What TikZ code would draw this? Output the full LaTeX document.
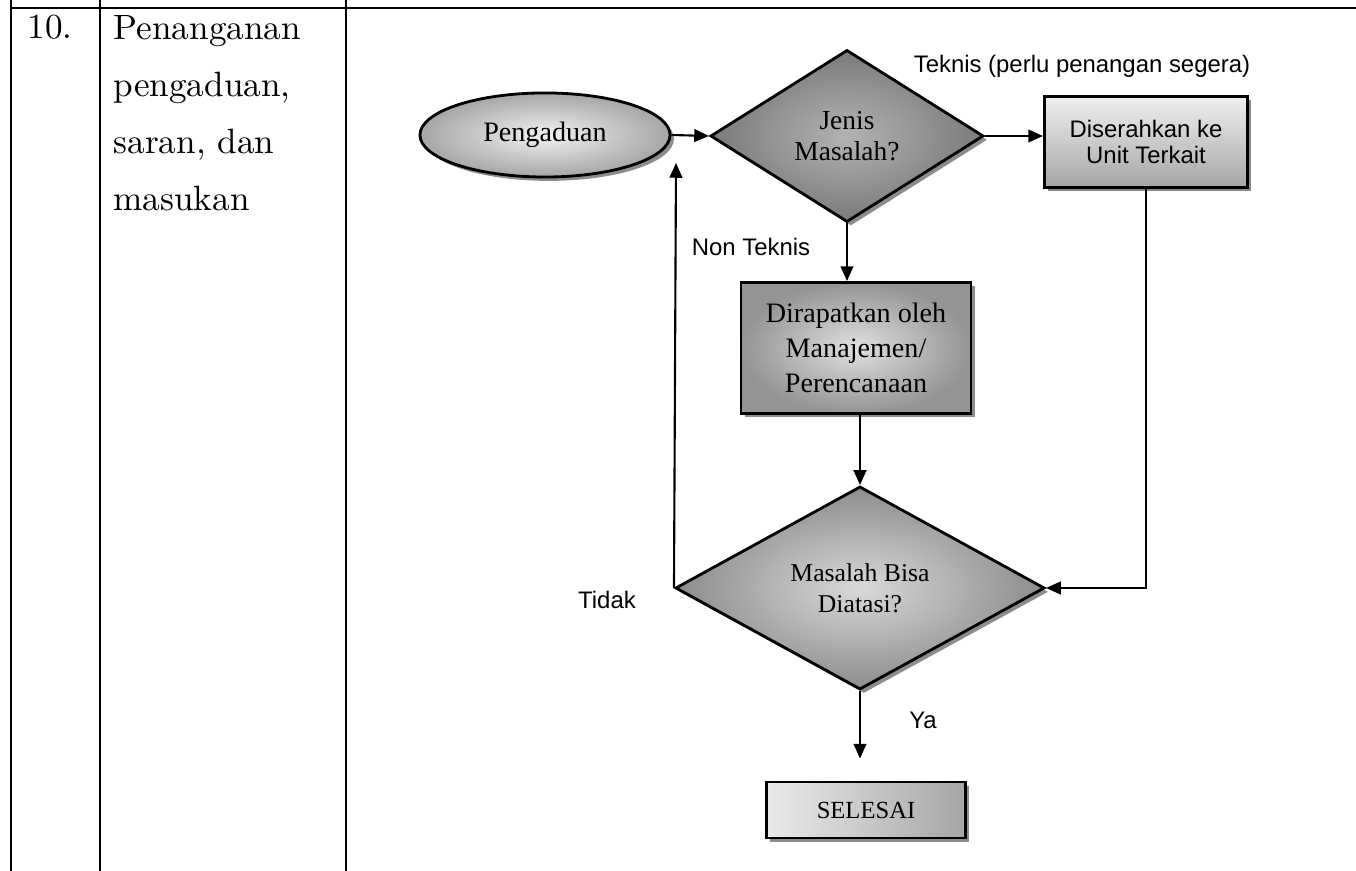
\documentclass[tikz,border=0pt]{standalone}
\usepackage{fontspec}
\newfontfamily\arial{Liberation Sans}
\newfontfamily\cambria{Liberation Serif}
\usetikzlibrary{shapes.geometric,shadows,arrows.meta}

\tikzset{
	bayang/.style={drop shadow={shadow xshift=1.1pt,shadow yshift=-1.1pt,fill=black!75,opacity=0.6}},
	kotak/.style={draw,line width=0.8pt,rectangle,inner sep=1pt,align=center,bayang},
	belah/.style={draw,line width=0.8pt,diamond,inner sep=0pt,align=center,bayang},
	ket/.style={font=\arial\fontsize{6.8}{8}\selectfont,inner sep=0pt},
	panah/.style={line width=0.6pt,-{Triangle[length=4.2pt,width=3.6pt]}},
	garis/.style={line width=0.8pt},
}

\begin{document}
\begin{tikzpicture}[x=0.01cm,y=-0.01cm]

	\useasboundingbox (0,0) rectangle (1356,871);

	% tabel
	\draw[garis] (11,8) -- (1356,8);
	\draw[garis] (11,0) -- (11,871);
	\draw[garis] (100,0) -- (100,871);
	\draw[garis] (346,0) -- (346,871);

	\node[anchor=base west,inner sep=0pt,font=\fontsize{10}{16}\selectfont] (no) at (27,39) {10.};
	\node[anchor=north west,inner sep=0pt,align=left,font=\fontsize{10}{16.2}\selectfont] (judul) at (113,15)
		{Penanganan\\pengaduan,\\saran, dan\\masukan};

	% bagan alir
	\node[ellipse,draw,line width=0.8pt,bayang,inner sep=0pt,font=\cambria\fontsize{8}{9}\selectfont,
		inner color=black!5,outer color=black!35,
		minimum width=2.50cm,minimum height=0.84cm] (aduan) at (545,135) {Pengaduan};

	\node[belah,font=\cambria\fontsize{7.8}{8.8}\selectfont,inner color=black!30,outer color=black!52,
		minimum width=2.73cm,minimum height=1.72cm] (jenis) at (847,136) {Jenis\\Masalah?};

	\node[kotak,font=\arial\fontsize{6.8}{7.6}\selectfont,top color=black!6,bottom color=black!35,
		minimum width=2.03cm,minimum height=0.91cm] (serah) at (1146,142) {Diserahkan ke\\Unit Terkait};

	\node[kotak,font=\cambria\fontsize{8}{10}\selectfont,inner color=black!12,outer color=black!42,
		minimum width=2.30cm,minimum height=1.31cm] (rapat) at (856,348) {Dirapatkan oleh\\Manajemen/\\Perencanaan};

	\node[belah,font=\cambria\fontsize{7.3}{8.8}\selectfont,inner color=black!15,outer color=black!45,
		minimum width=3.69cm,minimum height=2.03cm] (atasi) at (860,588) {Masalah Bisa\\Diatasi?};

	\node[kotak,font=\cambria\fontsize{7}{8}\selectfont,left color=black!8,right color=black!35,
		minimum width=1.99cm,minimum height=0.56cm] (selesai) at (866,810) {SELESAI};

	\coordinate (balik) at (676,163);

	\node[ket] (teknis) at (1082,66) {Teknis (perlu penangan segera)};
	\node[ket] (nonteknis) at (751,247) {Non Teknis};
	\node[ket] (tidak) at (607,600) {Tidak};
	\node[ket] (ya) at (923,720) {Ya};

	\draw[panah] (aduan.east) -- (jenis.west);
	\draw[panah] (jenis.east) -- (jenis.east -| serah.west);
	\draw[panah] (jenis.south) -- (jenis.south |- rapat.north);
	\draw[panah] (atasi.north |- rapat.south) -- (atasi.north);
	\draw[panah] (serah.south) |- (atasi.east);
	\draw[panah] (atasi.west) -- (balik);
	\draw[panah,shorten >=0.22cm] (atasi.south) -- (atasi.south |- selesai.north);

\end{tikzpicture}
\end{document}
